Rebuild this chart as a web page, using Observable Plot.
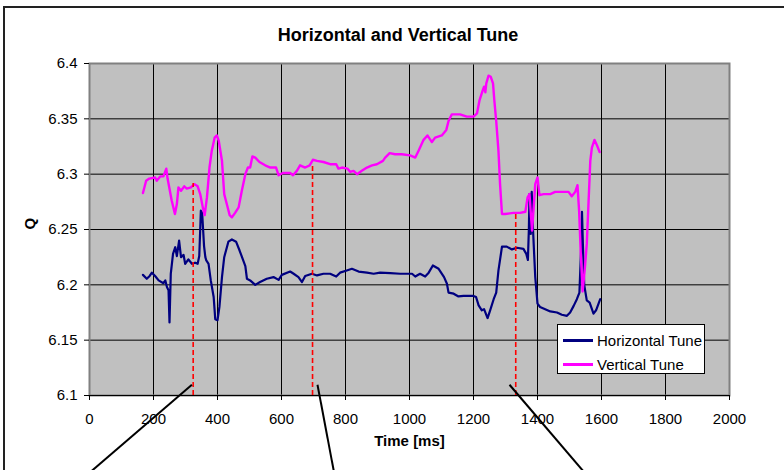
<!DOCTYPE html>
<html>
<head>
<meta charset="utf-8">
<script src="https://cdn.jsdelivr.net/npm/d3@7"></script>
<script src="https://cdn.jsdelivr.net/npm/@observablehq/plot@0.6"></script>
<style>
  html, body { margin: 0; padding: 0; background: white; overflow: hidden; }
  #wrap { position: relative; width: 784px; height: 470px; font-family: "Liberation Sans", Arial, sans-serif; }
  #title { position: absolute; left: 0; width: 796px; top: 24px; text-align: center; font-weight: bold; font-size: 18px; line-height: 22px; color: #000; }
  #border { position: absolute; left: 3px; top: 6px; width: 900px; height: 600px; border-top: 2px solid #222; border-left: 2px solid #222; pointer-events: none; }
  #legend { position: absolute; left: 557px; top: 324px; width: 146px; height: 48px; background: white; border: 1px solid #000; font-size: 15px; }
  .item { position: absolute; left: 5px; height: 20px; display: flex; align-items: center; }
  .swatch { width: 30px; height: 3px; margin-right: 4px; }
</style>
</head>
<body>
<div id="wrap">
  <div id="chart"></div>
  <div id="title">Horizontal and Vertical Tune</div>
  <div id="legend"></div>
  <div id="border"></div>
</div>
<script>
// ---- data ----
const seriesNames = ["Horizontal Tune", "Vertical Tune"];
const seriesColors = ["#000080", "#FF00FF"];

const hTime = [167,179,188,195,205,216,231,237,242,247,250,254,261,268,273,280,286,294,299,309,320,330,338,343,346,348,352,355,358,362,365,372,379,388,393,400,406,414,421,434,445,458,469,487,492,502,518,533,554,575,591,601,627,638,653,664,674,695,711,731,752,771,783,804,820,841,867,888,908,940,971,1008,1018,1033,1049,1060,1073,1091,1108,1117,1122,1138,1153,1169,1200,1208,1216,1226,1233,1244,1252,1263,1271,1278,1289,1304,1320,1336,1356,1365,1370,1373,1375,1379,1382,1386,1390,1393,1400,1408,1424,1440,1461,1476,1492,1502,1513,1523,1531,1536,1539,1542,1546,1554,1563,1575,1583,1596];
const hTune = [6.209,6.2055,6.208,6.211,6.208,6.204,6.2015,6.204,6.198,6.195,6.166,6.210,6.228,6.234,6.226,6.240,6.225,6.227,6.219,6.223,6.219,6.220,6.219,6.226,6.250,6.267,6.265,6.250,6.235,6.225,6.222,6.219,6.204,6.189,6.169,6.168,6.180,6.207,6.225,6.239,6.241,6.239,6.231,6.217,6.2055,6.204,6.200,6.2025,6.2055,6.207,6.2045,6.209,6.212,6.210,6.207,6.2025,6.208,6.210,6.2085,6.210,6.210,6.2075,6.211,6.213,6.2145,6.212,6.211,6.210,6.211,6.2105,6.210,6.210,6.2075,6.210,6.2075,6.211,6.2175,6.2145,6.207,6.201,6.193,6.192,6.1895,6.190,6.190,6.189,6.1815,6.177,6.178,6.170,6.177,6.187,6.193,6.213,6.2345,6.2345,6.232,6.2335,6.2325,6.228,6.2225,6.250,6.282,6.246,6.284,6.250,6.225,6.207,6.183,6.180,6.178,6.176,6.175,6.173,6.172,6.175,6.181,6.187,6.193,6.230,6.266,6.235,6.200,6.186,6.184,6.174,6.177,6.187];

const vTime = [167,177,187,205,210,221,231,240,244,257,267,273,278,286,296,304,317,328,338,346,354,360,367,375,382,391,398,404,414,421,429,438,445,455,466,476,487,495,502,509,518,531,549,565,583,591,604,627,636,648,658,674,688,698,711,731,752,771,778,789,806,815,825,836,851,867,883,898,917,924,938,955,976,1002,1018,1028,1044,1056,1070,1080,1101,1115,1122,1132,1158,1179,1200,1211,1219,1229,1233,1237,1240,1247,1254,1261,1265,1271,1278,1283,1289,1299,1325,1346,1362,1369,1375,1379,1383,1388,1393,1400,1406,1419,1440,1455,1471,1497,1507,1518,1525,1530,1535,1541,1548,1554,1565,1570,1578,1586,1594];
const vTune = [6.283,6.294,6.296,6.297,6.294,6.298,6.298,6.305,6.296,6.276,6.264,6.273,6.288,6.285,6.289,6.287,6.288,6.291,6.289,6.282,6.270,6.263,6.279,6.306,6.321,6.333,6.335,6.330,6.312,6.282,6.273,6.263,6.261,6.265,6.270,6.285,6.300,6.306,6.306,6.316,6.315,6.311,6.308,6.306,6.306,6.299,6.301,6.301,6.299,6.303,6.308,6.306,6.308,6.313,6.312,6.311,6.309,6.309,6.305,6.306,6.305,6.302,6.303,6.300,6.303,6.306,6.308,6.309,6.312,6.315,6.319,6.318,6.318,6.317,6.315,6.321,6.331,6.335,6.329,6.333,6.335,6.340,6.348,6.354,6.354,6.352,6.352,6.355,6.367,6.376,6.379,6.374,6.382,6.389,6.388,6.382,6.367,6.348,6.321,6.291,6.264,6.264,6.265,6.265,6.266,6.279,6.282,6.265,6.249,6.270,6.291,6.297,6.281,6.282,6.282,6.284,6.284,6.284,6.280,6.284,6.290,6.267,6.230,6.194,6.215,6.237,6.312,6.324,6.331,6.326,6.320];

// red dashed markers (time, top value)
const markerTime = [324, 697, 1332];
const markerTop = [6.2916, 6.308, 6.265];
const markerBottom = 6.1;

// black annotation pointer lines (start/end in chart units)
const pointerX1 = [320, 712.5, 1312.5];
const pointerY1 = [6.1097, 6.1097, 6.1097];
const pointerX2 = [-28, 769, 1568];
const pointerY2 = [6.0232, 6.0232, 6.0232];

const xTicks = [0,200,400,600,800,1000,1200,1400,1600,1800,2000];
const yTicks = [6.1,6.15,6.2,6.25,6.3,6.35,6.4];

// ---- build tables ----
const hData = hTime.map((t, i) => ({t, q: hTune[i]}));
const vData = vTime.map((t, i) => ({t, q: vTune[i]}));
const markers = markerTime.map((t, i) => ({t, top: markerTop[i], bottom: markerBottom}));
const pointers = pointerX1.map((x1, i) => ({x1, y1: pointerY1[i], x2: pointerX2[i], y2: pointerY2[i]}));

const chart = Plot.plot({
  width: 784,
  height: 470,
  marginLeft: 89,
  marginRight: 55,
  marginTop: 63,
  marginBottom: 75,
  style: {fontFamily: "'Liberation Sans', Arial, sans-serif", fontSize: "15px", background: "transparent", color: "#000"},
  x: {domain: [0, 2000]},
  y: {domain: [6.1, 6.4]},
  marks: [
    Plot.frame({fill: "#C0C0C0"}),
    Plot.ruleY(yTicks.slice(1, -1), {stroke: "#000", strokeWidth: 1}),
    Plot.ruleX(xTicks.slice(1, -1), {stroke: "#000", strokeWidth: 1}),
    Plot.frame({stroke: "#808080", strokeWidth: 2}),
    Plot.ruleY([6.1], {stroke: "#000", strokeWidth: 1.2}),
    Plot.line(hData, {x: "t", y: "q", stroke: seriesColors[0], strokeWidth: 2.2}),
    Plot.line(vData, {x: "t", y: "q", stroke: seriesColors[1], strokeWidth: 2.4}),
    Plot.ruleX(markers, {x: "t", y1: "bottom", y2: "top", stroke: "#FF0000", strokeWidth: 1.6, strokeDasharray: "5,3"}),
    Plot.link(pointers, {x1: "x1", y1: "y1", x2: "x2", y2: "y2", stroke: "#000", strokeWidth: 2, clip: false}),
    Plot.axisY({ticks: yTicks, tickSize: 5, tickPadding: 7, tickFormat: d => String(d), label: null, fontSize: 15}),
    Plot.axisX({ticks: xTicks, tickSize: 5, tickPadding: 13, tickFormat: d => String(d), label: null, fontSize: 15}),
    Plot.text(["Time [ms]"], {frameAnchor: "bottom", dy: 50, fontWeight: "bold", fontSize: 15}),
    Plot.text(["Q"], {frameAnchor: "left", dx: -59, rotate: -90, fontWeight: "bold", fontSize: 15})
  ]
});
document.getElementById("chart").appendChild(chart);

// legend
const legend = document.getElementById("legend");
seriesNames.forEach((name, i) => {
  const item = document.createElement("div");
  item.className = "item";
  item.style.top = (i === 0 ? 5 : 29) + "px";
  const sw = document.createElement("div");
  sw.className = "swatch";
  sw.style.background = seriesColors[i];
  const label = document.createElement("span");
  label.textContent = name;
  item.appendChild(sw);
  item.appendChild(label);
  legend.appendChild(item);
});
</script>
</body>
</html>
